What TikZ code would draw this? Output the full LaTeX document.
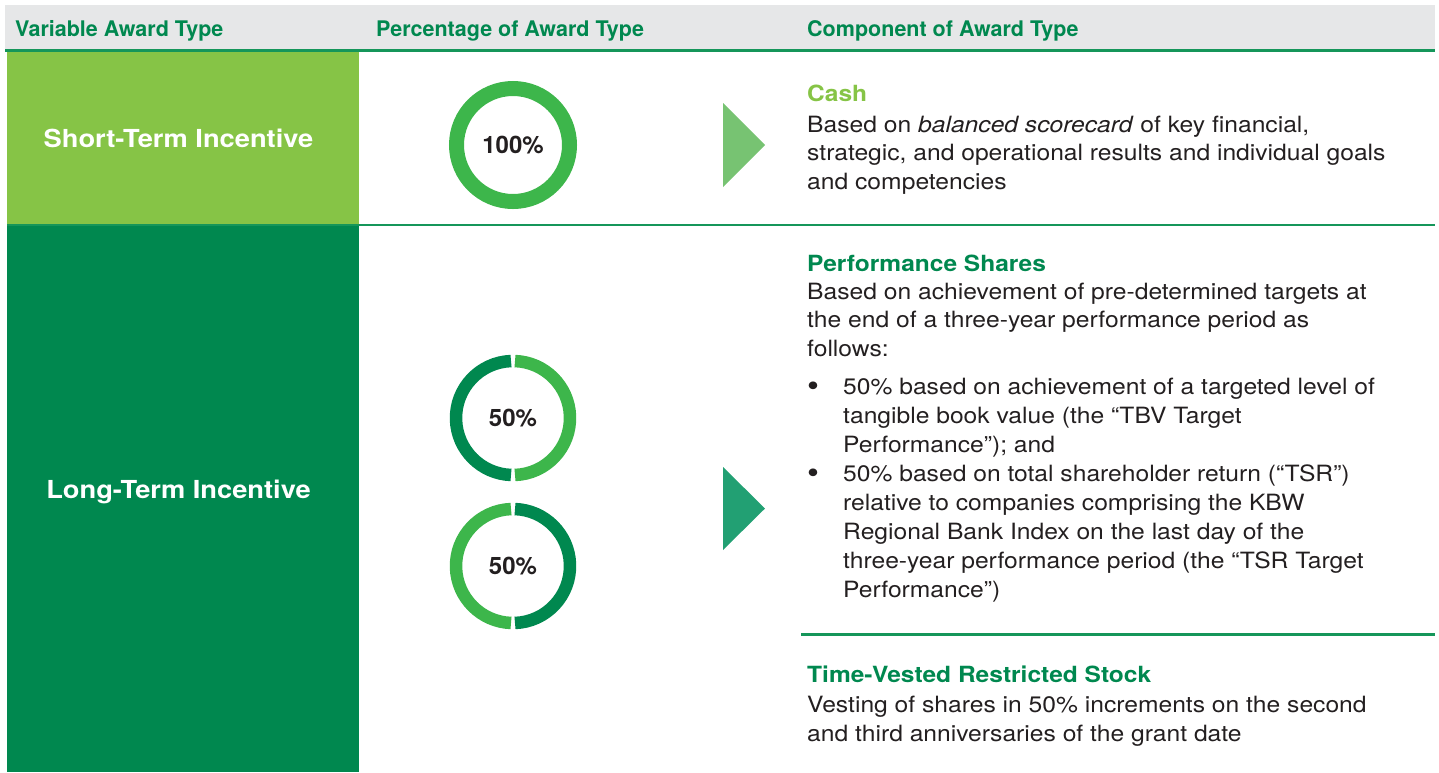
\documentclass[tikz,border=0pt]{standalone}
\usepackage{fontspec}
\setmainfont{TeX Gyre Heros}[FakeStretch=1.1]
\newfontfamily\narrowfont{TeX Gyre Heros}
\usepackage{tikz}

\definecolor{hdrgray}{HTML}{E6E7E8}
\definecolor{darkgreen}{HTML}{00884F}
\definecolor{rulegreen}{HTML}{15965A}
\definecolor{limegreen}{HTML}{86C446}
\definecolor{ringgreen}{HTML}{3DB64B}
\definecolor{arrowlight}{HTML}{77C372}
\definecolor{arrowteal}{HTML}{22A073}
\definecolor{bodytext}{HTML}{231F20}

\tikzset{
    hdr/.style={anchor=base west, inner sep=0, text=darkgreen,
                font=\narrowfont\fontsize{21.5}{24}\selectfont\bfseries},
    rowlabel/.style={inner sep=0, text=white,
                font=\fontsize{24.8}{28}\selectfont\bfseries},
    pct/.style={inner sep=0, text=bodytext,
                font=\narrowfont\fontsize{24}{26}\selectfont\bfseries},
    ctitle/.style={anchor=base west, inner sep=0,
                font=\fontsize{22.3}{26}\selectfont\bfseries},
    cbody/.style={anchor=base west, inner sep=0, align=left, text=bodytext,
                font=\fontsize{22.4}{28.5}\selectfont},
    rule/.style={rulegreen, line width=2.6pt}
}

\newcommand{\bul}{\makebox[36pt][l]{\raisebox{-2pt}{\fontsize{31}{29}\selectfont\textbullet}}}
\newcommand{\ind}{\hspace*{36pt}}

\begin{document}
\begin{tikzpicture}[x=1pt,y=-1pt]
    \useasboundingbox (0,0) rectangle (1439,772);

    % header band
    \fill[hdrgray] (5,5) rectangle (1435,49);
    \draw[rule] (5,50.5) -- (1435,50.5);
    \node[hdr] (hvar) at (15,36) {Variable Award Type};
    \node[hdr] (hpct) at (376,36) {Percentage of Award Type};
    \node[hdr] (hcomp) at (807,36) {Component of Award Type};

    % left column
    \fill[limegreen] (7,52) rectangle (359,224);
    \fill[darkgreen] (7,226) rectangle (359,772);
    \draw[rule] (7,225) -- (1435,225);
    \draw[rule] (801,634.3) -- (1435,634.3);
    \node[rowlabel] (sti) at (178.5,138.5) {Short-Term Incentive};
    \node[rowlabel] (lti) at (178.5,491.5) {Long-Term Incentive};

    % rings
    \node[pct] (full) at (513,145) {100\%};
    \node[pct] (tbv) at (513,418) {50\%};
    \node[pct] (tsr) at (513,566) {50\%};

    \draw[ringgreen, line width=15pt] (full) circle[radius=56.5pt];

    \begin{scope}[line width=12.5pt]
        \draw[darkgreen] (tbv) ++(92:57pt) arc[start angle=92, end angle=268, radius=57pt];
        \draw[ringgreen] (tbv) ++(-88:57pt) arc[start angle=-88, end angle=88, radius=57pt];
        \draw[ringgreen] (tsr) ++(92:57pt) arc[start angle=92, end angle=268, radius=57pt];
        \draw[darkgreen] (tsr) ++(-88:57pt) arc[start angle=-88, end angle=88, radius=57pt];
    \end{scope}

    % pointers
    \fill[arrowlight] (723,103) -- (765,145) -- (723,187) -- cycle;
    \fill[arrowteal] (723,467) -- (765,508.5) -- (723,550) -- cycle;

    % components (body nodes sit on the baseline of their last line)
    \node[ctitle, text=limegreen] (cash) at (807,101.7) {Cash};
    \node[cbody] (cashtxt) at (807,189) {Based on \textit{balanced scorecard} of key financial,\\
        strategic, and operational results and individual goals\\
        and competencies};

    \node[ctitle, text=darkgreen] (perf) at (807,271.7) {Performance Shares};
    \node[cbody] (perftxt) at (807,356) {Based on achievement of pre-determined targets at\\
        the end of a three-year performance period as\\
        follows:};
    \node[cbody, font=\fontsize{22.4}{29}\selectfont] (perflist) at (807,597) {%
        \bul 50\% based on achievement of a targeted level of\\
        \ind tangible book value (the “TBV Target\\
        \ind Performance”); and\\
        \bul 50\% based on total shareholder return (“TSR”)\\
        \ind relative to companies comprising the KBW\\
        \ind Regional Bank Index on the last day of the\\
        \ind three-year performance period (the “TSR Target\\
        \ind Performance”)};

    \node[ctitle, text=darkgreen] (rsu) at (807,682.3) {Time-Vested Restricted Stock};
    \node[cbody, font=\fontsize{22.4}{29}\selectfont] (rsutxt) at (807,741.7) {Vesting of shares in 50\% increments on the second\\
        and third anniversaries of the grant date};
\end{tikzpicture}
\end{document}
